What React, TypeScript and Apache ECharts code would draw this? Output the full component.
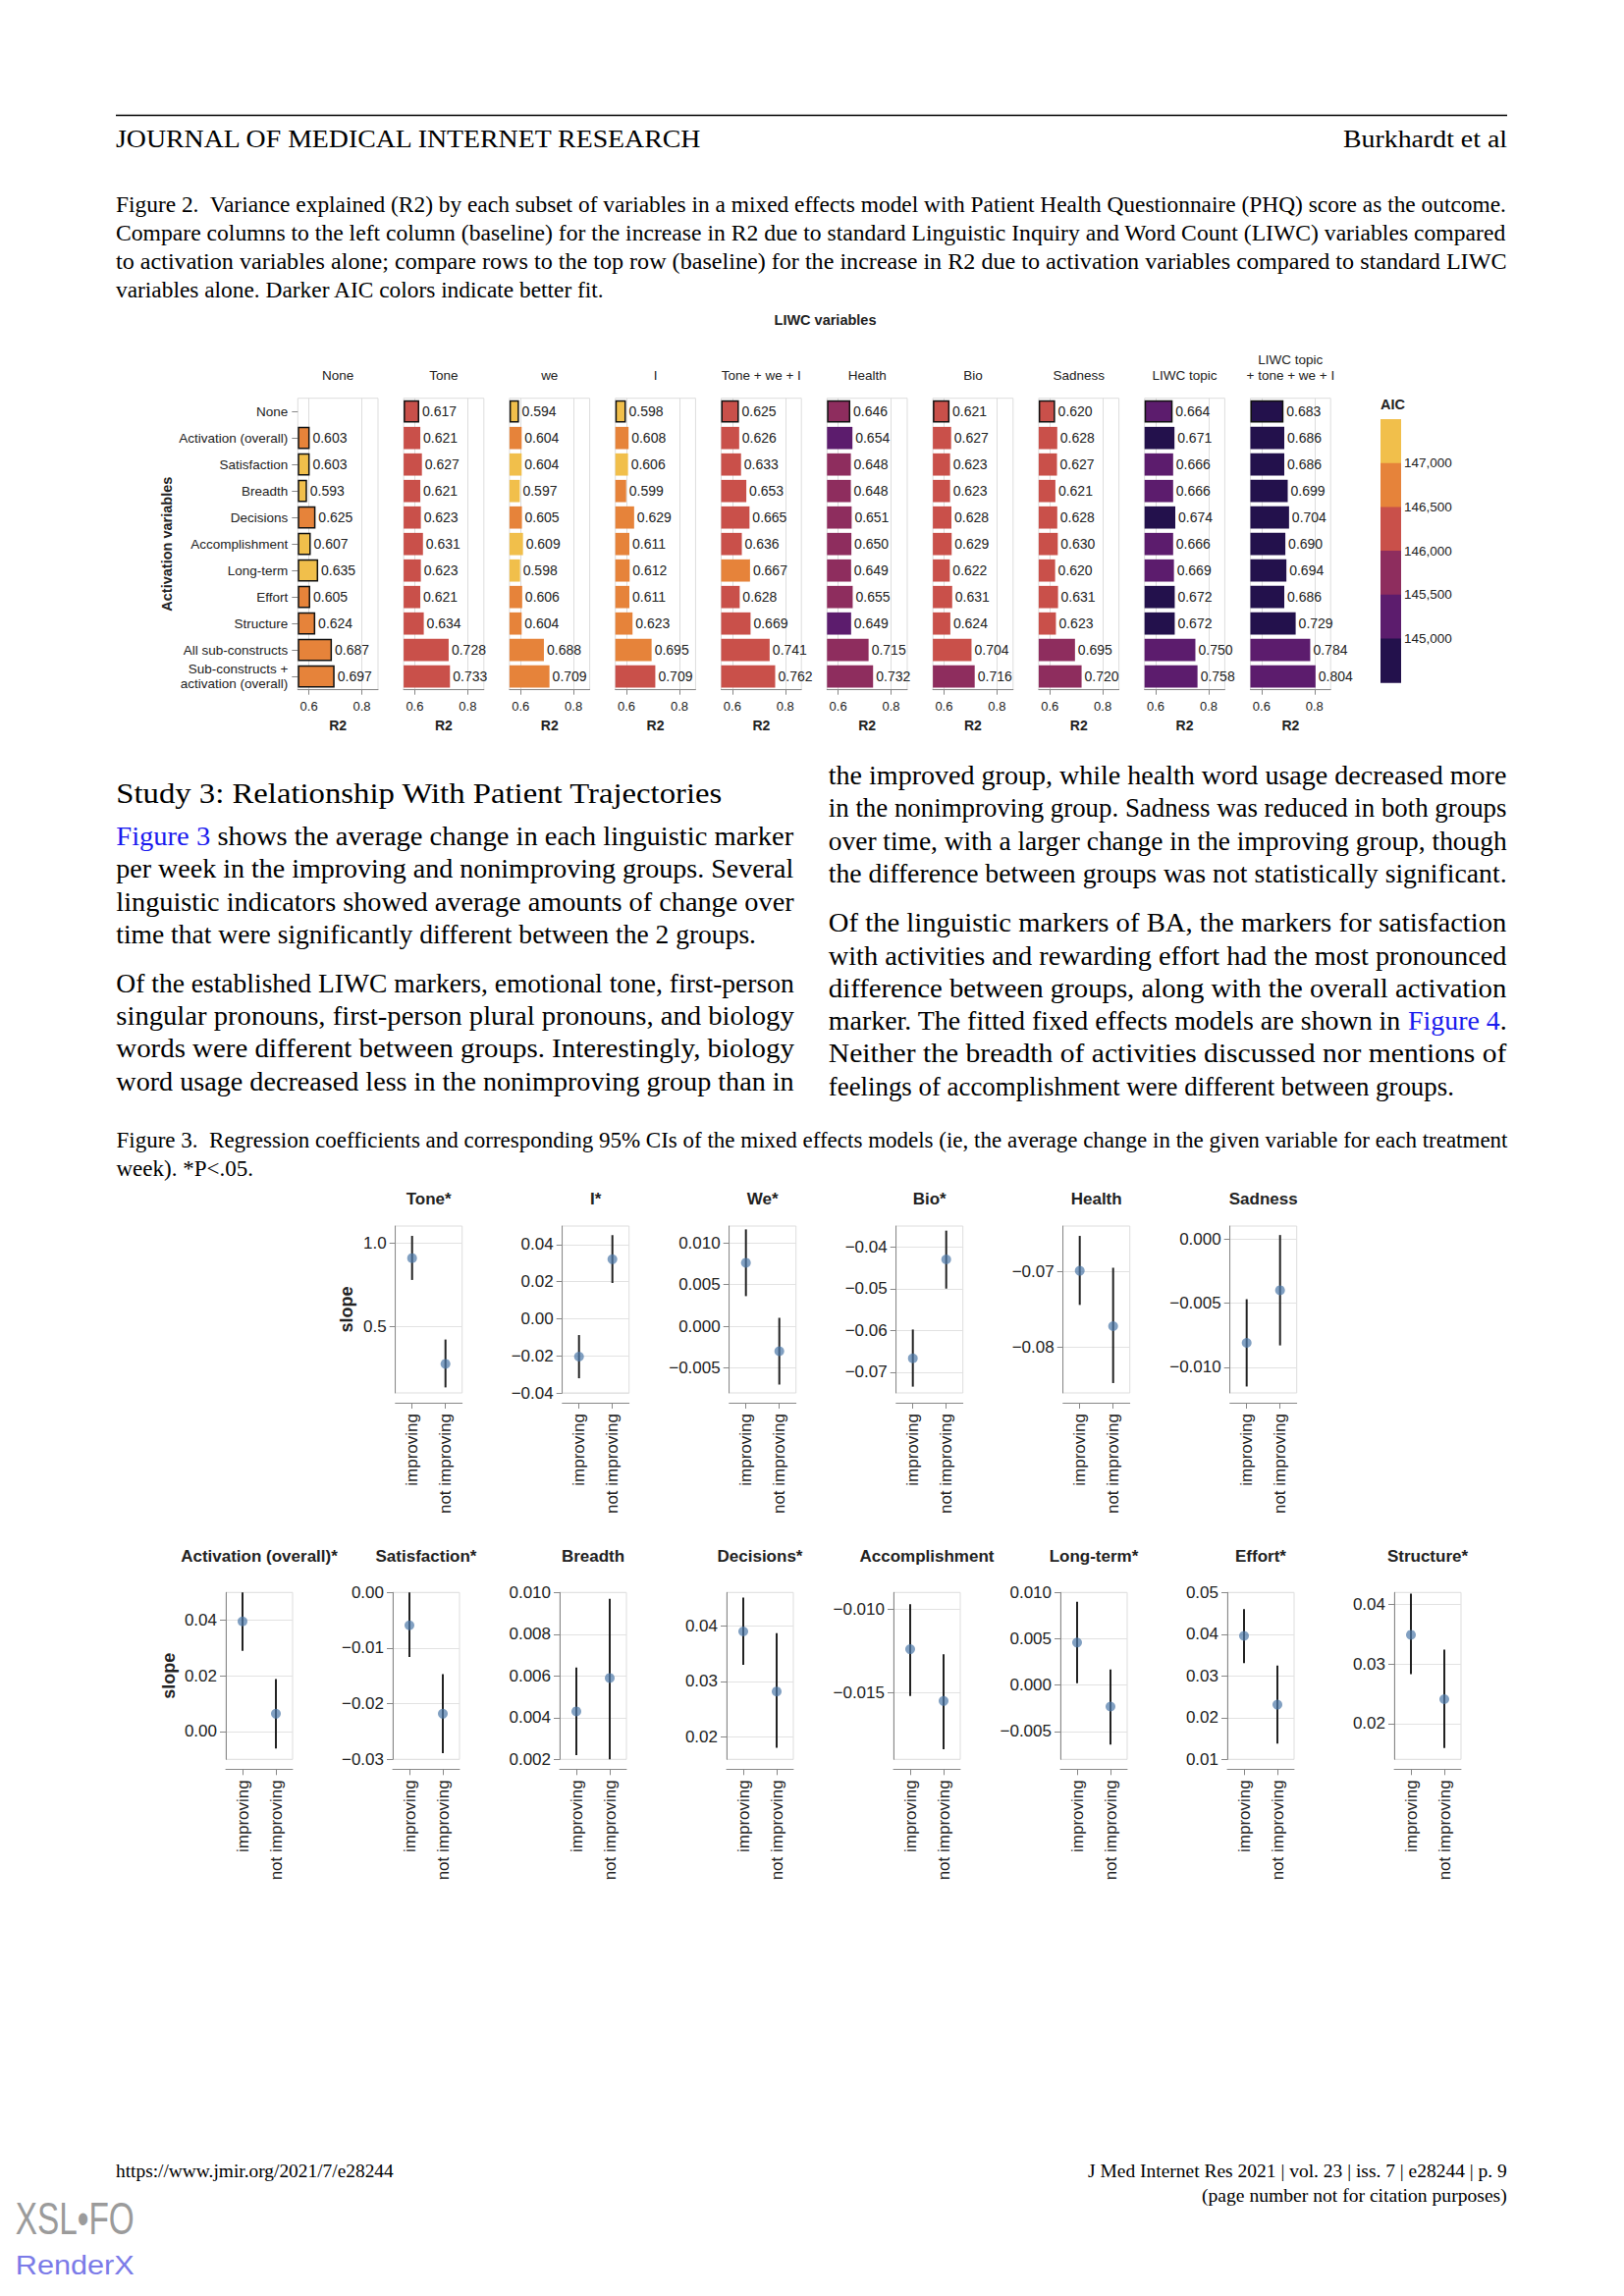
import React, { useEffect, useRef } from "react";
import * as echarts from "echarts";

// ================= Figure 2 data =================
const fig2RowLabels = [
  "None", "Activation (overall)", "Satisfaction", "Breadth", "Decisions", "Accomplishment",
  "Long-term", "Effort", "Structure", "All sub-constructs", "Sub-constructs +\nactivation (overall)",
];
const fig2ColLabels = [
  "None", "Tone", "we", "I", "Tone + we + I", "Health", "Bio", "Sadness", "LIWC topic", "LIWC topic\n+ tone + we + I",
];
const r2None = [null, 0.603, 0.603, 0.593, 0.625, 0.607, 0.635, 0.605, 0.624, 0.687, 0.697];
const r2Tone = [0.617, 0.621, 0.627, 0.621, 0.623, 0.631, 0.623, 0.621, 0.634, 0.728, 0.733];
const r2We = [0.594, 0.604, 0.604, 0.597, 0.605, 0.609, 0.598, 0.606, 0.604, 0.688, 0.709];
const r2I = [0.598, 0.608, 0.606, 0.599, 0.629, 0.611, 0.612, 0.611, 0.623, 0.695, 0.709];
const r2ToneWeI = [0.625, 0.626, 0.633, 0.653, 0.665, 0.636, 0.667, 0.628, 0.669, 0.741, 0.762];
const r2Health = [0.646, 0.654, 0.648, 0.648, 0.651, 0.65, 0.649, 0.655, 0.649, 0.715, 0.732];
const r2Bio = [0.621, 0.627, 0.623, 0.623, 0.628, 0.629, 0.622, 0.631, 0.624, 0.704, 0.716];
const r2Sadness = [0.62, 0.628, 0.627, 0.621, 0.628, 0.63, 0.62, 0.631, 0.623, 0.695, 0.72];
const r2LiwcTopic = [0.664, 0.671, 0.666, 0.666, 0.674, 0.666, 0.669, 0.672, 0.672, 0.75, 0.758];
const r2LiwcTopicPlus = [0.683, 0.686, 0.686, 0.699, 0.704, 0.69, 0.694, 0.686, 0.729, 0.784, 0.804];

// AIC bin of each bar: 0 = below 145,000 ... 5 = above 147,000
const aicNone = [null, 4, 5, 5, 4, 5, 5, 4, 4, 4, 4];
const aicTone = [3, 3, 3, 3, 3, 3, 3, 3, 3, 3, 3];
const aicWe = [5, 4, 5, 5, 4, 5, 5, 4, 4, 4, 4];
const aicI = [5, 4, 5, 4, 4, 4, 4, 4, 4, 4, 3];
const aicToneWeI = [3, 3, 3, 3, 3, 3, 4, 3, 3, 3, 3];
const aicHealth = [2, 1, 2, 2, 2, 2, 2, 2, 1, 2, 2];
const aicBio = [3, 3, 3, 3, 3, 3, 3, 3, 3, 3, 2];
const aicSadness = [3, 3, 3, 3, 3, 3, 3, 3, 3, 2, 2];
const aicLiwcTopic = [1, 0, 1, 1, 0, 1, 1, 0, 0, 1, 1];
const aicLiwcTopicPlus = [0, 0, 0, 0, 0, 0, 0, 0, 0, 1, 1];

const aicColors = ["#23114c", "#5c1c6d", "#8e2d5e", "#c9504a", "#e6833a", "#f1bf4b"];
const aicTickLabels = ["147,000", "146,500", "146,000", "145,500", "145,000"];
const r2TickValues = [0.6, 0.8];

// ================= Figure 3 data =================
const fig3Titles = [
  "Tone*", "I*", "We*", "Bio*", "Health", "Sadness",
  "Activation (overall)*", "Satisfaction*", "Breadth", "Decisions*", "Accomplishment", "Long-term*", "Effort*", "Structure*",
];
const fig3Groups = ["improving", "not improving"];
const estImproving = [0.908, -0.0204, 0.0076, -0.0667, -0.0699, -0.0081, 0.0396, -0.0059, 0.0043, 0.039, -0.0124, 0.0046, 0.0396, 0.0349];
const loImproving = [0.777, -0.0321, 0.0036, -0.0735, -0.0744, -0.0115, 0.029, -0.0116, 0.0022, 0.033, -0.0152, 0.0002, 0.0331, 0.0283];
const hiImproving = [1.041, -0.0088, 0.0116, -0.0598, -0.0653, -0.0047, 0.05, 0.0, 0.0064, 0.0451, -0.0097, 0.009, 0.046, 0.0418];
const estNotImproving = [0.274, 0.0321, -0.003, -0.043, -0.0772, -0.004, 0.0064, -0.0218, 0.0059, 0.0282, -0.0155, -0.0023, 0.0231, 0.0241];
const loNotImproving = [0.133, 0.0193, -0.007, -0.05, -0.0847, -0.0083, -0.0061, -0.0289, 0.002, 0.0181, -0.0184, -0.0064, 0.0138, 0.0159];
const hiNotImproving = [0.42, 0.0451, 0.001, -0.0361, -0.0695, 0.0003, 0.0189, -0.0147, 0.0097, 0.0387, -0.0127, 0.0017, 0.0325, 0.0324];

const fig3AxisMin = [0.1, -0.04, -0.008, -0.075, -0.086, -0.012, -0.01, -0.03, 0.002, 0.016, -0.019, -0.008, 0.01, 0.014];
const fig3AxisMax = [1.1, 0.05, 0.012, -0.035, -0.064, 0.001, 0.05, 0.0, 0.01, 0.046, -0.009, 0.01, 0.05, 0.042];
const fig3Ticks = [
  [0.5, 1.0],
  [-0.04, -0.02, 0, 0.02, 0.04],
  [-0.005, 0, 0.005, 0.01],
  [-0.07, -0.06, -0.05, -0.04],
  [-0.08, -0.07],
  [-0.01, -0.005, 0],
  [0, 0.02, 0.04],
  [-0.03, -0.02, -0.01, 0],
  [0.002, 0.004, 0.006, 0.008, 0.01],
  [0.02, 0.03, 0.04],
  [-0.015, -0.01],
  [-0.005, 0, 0.005, 0.01],
  [0.01, 0.02, 0.03, 0.04, 0.05],
  [0.02, 0.03, 0.04],
];
const fig3Decimals = [1, 2, 3, 2, 2, 3, 2, 2, 3, 2, 3, 3, 2, 2];

// ================= Page text =================
const LINK = "#1a1aee";
const headerLeft = "JOURNAL OF MEDICAL INTERNET RESEARCH";
const headerRight = "Burkhardt et al";
const fig2Caption = [
  "Figure 2.  Variance explained (R2) by each subset of variables in a mixed effects model with Patient Health Questionnaire (PHQ) score as the outcome.",
  "Compare columns to the left column (baseline) for the increase in R2 due to standard Linguistic Inquiry and Word Count (LIWC) variables compared",
  "to activation variables alone; compare rows to the top row (baseline) for the increase in R2 due to activation variables compared to standard LIWC",
  "variables alone. Darker AIC colors indicate better fit.",
];
const studyHeading = "Study 3: Relationship With Patient Trajectories";
const leftColumn: { segs: { t: string; c?: string }[]; full: boolean }[] = [
  { segs: [{ t: "Figure 3", c: LINK }, { t: " shows the average change in each linguistic marker" }], full: true },
  { segs: [{ t: "per week in the improving and nonimproving groups. Several" }], full: true },
  { segs: [{ t: "linguistic indicators showed average amounts of change over" }], full: true },
  { segs: [{ t: "time that were significantly different between the 2 groups." }], full: false },
  { segs: [{ t: "Of the established LIWC markers, emotional tone, first-person" }], full: true },
  { segs: [{ t: "singular pronouns, first-person plural pronouns, and biology" }], full: true },
  { segs: [{ t: "words were different between groups. Interestingly, biology" }], full: true },
  { segs: [{ t: "word usage decreased less in the nonimproving group than in" }], full: true },
];
const leftColumnY = [851.7, 885, 918.3, 951.7, 1001.7, 1035, 1068.3, 1101.7];
const rightColumn: { segs: { t: string; c?: string }[]; full: boolean }[] = [
  { segs: [{ t: "the improved group, while health word usage decreased more" }], full: true },
  { segs: [{ t: "in the nonimproving group. Sadness was reduced in both groups" }], full: true },
  { segs: [{ t: "over time, with a larger change in the improving group, though" }], full: true },
  { segs: [{ t: "the difference between groups was not statistically significant." }], full: true },
  { segs: [{ t: "Of the linguistic markers of BA, the markers for satisfaction" }], full: true },
  { segs: [{ t: "with activities and rewarding effort had the most pronounced" }], full: true },
  { segs: [{ t: "difference between groups, along with the overall activation" }], full: true },
  { segs: [{ t: "marker. The fitted fixed effects models are shown in " }, { t: "Figure 4", c: LINK }, { t: "." }], full: true },
  { segs: [{ t: "Neither the breadth of activities discussed nor mentions of" }], full: true },
  { segs: [{ t: "feelings of accomplishment were different between groups." }], full: false },
];
const rightColumnY = [790, 823.3, 857.3, 890, 940, 973.3, 1007.3, 1040, 1073.3, 1106.7];
const fig3Caption = [
  "Figure 3.  Regression coefficients and corresponding 95% CIs of the mixed effects models (ie, the average change in the given variable for each treatment",
  "week). *P<.05.",
];
const footerLeft = "https://www.jmir.org/2021/7/e28244";
const footerRight1 = "J Med Internet Res 2021 | vol. 23 | iss. 7 | e28244 | p. 9";
const footerRight2 = "(page number not for citation purposes)";

// ================= helpers =================
const SERIF = "Liberation Serif";
const SANS = "Liberation Sans";
let mctx: CanvasRenderingContext2D | null = null;
function measure(text: string, size: number, family: string, weight = "normal") {
  if (!mctx) mctx = document.createElement("canvas").getContext("2d");
  mctx!.font = `${weight} ${size}px "${family}"`;
  return mctx!.measureText(text).width;
}
type Seg = { t: string; c?: string };
function segsWidth(segs: Seg[], size: number, family: string, weight = "normal") {
  return segs.reduce((a, s) => a + measure(s.t, size, family, weight), 0);
}
function lineEls(segs: Seg[], x: number, y: number, size: number, family: string, scale: number, color = "#000", weight = "normal") {
  const out: any[] = [];
  let cum = 0;
  for (const s of segs) {
    out.push({
      type: "text", x: x + cum * scale, y, scaleX: scale, silent: true,
      style: { text: s.t, fontSize: size, fontFamily: family, fontWeight: weight, fill: s.c || color, textAlign: "left", textVerticalAlign: "middle" },
    });
    cum += measure(s.t, size, family, weight);
  }
  return out;
}
function fitLine(segs: Seg[], x: number, y: number, width: number, size: number, family: string, color = "#000", weight = "normal") {
  const scale = width / segsWidth(segs, size, family, weight);
  return lineEls(segs, x, y, size, family, scale, color, weight);
}
function block(lines: { segs: Seg[]; full: boolean }[], ys: number[], x: number, width: number, size: number, family: string) {
  const scales = lines.map((l) => width / segsWidth(l.segs, size, family));
  const fullScales = scales.filter((_, i) => lines[i].full);
  const base = fullScales.length ? Math.min(...fullScales) : 1;
  const out: any[] = [];
  lines.forEach((l, i) => {
    out.push(...lineEls(l.segs, x, ys[i], size, family, l.full ? scales[i] : Math.min(base, scales[i])));
  });
  return out;
}
function txt(text: string, x: number, y: number, size: number, opts: any = {}) {
  return {
    type: "text", x, y, silent: true, rotation: opts.rotation || 0,
    style: {
      text, fontSize: size, fontFamily: opts.family || SANS, fontWeight: opts.weight || "normal",
      fill: opts.color || "#222", textAlign: opts.align || "center", textVerticalAlign: "middle",
    },
  };
}
const fmtSigned = (v: number, d: number) => (v < 0 ? "\u2212" : "") + Math.abs(v).toFixed(d);

// ================= layout =================
const F2_LEFT = 303.3, F2_PITCH = 107.8, F2_W = 81.7, F2_TOP = 405.7, F2_H = 297;
const F2_MIN = 0.558, F2_MAX = 0.861;
const F3_ROW_LEFT = [402.7, 230], F3_ROW_TOP = [1249, 1622.3], F3_TITLE_Y = [1221, 1585.7];
const F3_PITCH = 170, F3_W = 68, F3_H = 170;
const F3_FONT = 17;

function buildOption() {
  const grids: any[] = [], xAxes: any[] = [], yAxes: any[] = [], series: any[] = [], els: any[] = [];

  // ---- page header ----
  els.push({ type: "line", silent: true, shape: { x1: 118, y1: 117.5, x2: 1535, y2: 117.5 }, style: { stroke: "#000", lineWidth: 1.5 } });
  els.push(...fitLine([{ t: headerLeft }], 118, 141.7, 598, 25, SERIF));
  els.push(...fitLine([{ t: headerRight }], 1535 - 167, 141.7, 167, 25, SERIF));

  // ---- figure 2 caption ----
  els.push(...block(fig2Caption.map((t, i) => ({ segs: [{ t }], full: i < 3 })), [208, 237, 266, 295], 118, 1417, 23, SERIF));

  // ---- figure 2 ----
  const r2Cols = [r2None, r2Tone, r2We, r2I, r2ToneWeI, r2Health, r2Bio, r2Sadness, r2LiwcTopic, r2LiwcTopicPlus];
  const aicCols = [aicNone, aicTone, aicWe, aicI, aicToneWeI, aicHealth, aicBio, aicSadness, aicLiwcTopic, aicLiwcTopicPlus];
  els.push(txt("LIWC variables", 840.5, 325.7, 14.5, { weight: "bold" }));
  els.push(txt("Activation variables", 169.6, F2_TOP + F2_H / 2, 14.5, { weight: "bold", rotation: Math.PI / 2 }));
  fig2ColLabels.forEach((label, i) => {
    const left = F2_LEFT + i * F2_PITCH;
    const gi = grids.length;
    grids.push({ left, top: F2_TOP, width: F2_W, height: F2_H, show: true, borderColor: "#dddddd", borderWidth: 1 });
    xAxes.push({
      gridIndex: gi, type: "value", min: F2_MIN, max: F2_MAX, startValue: F2_MIN,
      axisLine: { show: true, lineStyle: { color: "#888", width: 1 } },
      axisTick: { show: true, length: 5, customValues: r2TickValues, lineStyle: { color: "#888" } },
      axisLabel: { customValues: r2TickValues, formatter: (v: number) => v.toFixed(1), fontSize: 13, color: "#222", margin: 10 },
      splitLine: { show: true, lineStyle: { color: "#dddddd", width: 1 } },
      name: "R2", nameLocation: "middle", nameGap: 29,
      nameTextStyle: { fontWeight: "bold", fontSize: 14, color: "#222" },
    });
    yAxes.push({
      gridIndex: gi, type: "category", data: fig2RowLabels, inverse: true,
      axisLine: { show: false },
      axisTick: { show: i === 0, length: 6, alignWithLabel: true, lineStyle: { color: "#888" } },
      axisLabel: { show: i === 0, margin: 10, fontSize: 13.5, color: "#222", lineHeight: 15 },
      splitLine: { show: false },
    });
    series.push({
      type: "bar", xAxisIndex: gi, yAxisIndex: gi, barCategoryGap: "16%", clip: true,
      data: r2Cols[i].map((v, r) => {
        if (v == null) return "-";
        const base = i === 0 || r === 0;
        const color = aicColors[aicCols[i][r] as number];
        return { value: v, itemStyle: { color, borderColor: base ? "#111" : color, borderWidth: base ? 1.5 : 0 } };
      }),
      label: { show: true, position: "right", distance: 3, fontSize: 14, color: "#222", formatter: (p: any) => Number(p.value).toFixed(3) },
    });
    const lines = label.split("\n");
    lines.forEach((ln, k) => els.push(txt(ln, left + F2_W / 2, 382.7 - (lines.length - 1 - k) * 16, 13.5)));
  });

  // AIC legend
  const LEG_X = 1406, LEG_W = 21, LEG_TOP = 427, LEG_BAND = 44.7;
  els.push(txt("AIC", LEG_X, 411.7, 14.5, { weight: "bold", align: "left" }));
  for (let b = 5; b >= 0; b--) {
    els.push({ type: "rect", silent: true, shape: { x: LEG_X, y: LEG_TOP + (5 - b) * LEG_BAND, width: LEG_W, height: LEG_BAND + 0.5 }, style: { fill: aicColors[b] } });
  }
  aicTickLabels.forEach((t, k) => els.push(txt(t, LEG_X + LEG_W + 3, LEG_TOP + (k + 1) * LEG_BAND, 13.5, { align: "left" })));

  // ---- body text ----
  els.push(...fitLine([{ t: studyHeading }], 118.3, 808.3, 618.4, 29, SERIF));
  els.push(...block(leftColumn, leftColumnY, 118.3, 690.5, 27, SERIF));
  els.push(...block(rightColumn, rightColumnY, 843.8, 691, 27, SERIF));

  // ---- figure 3 caption ----
  els.push(...block(fig3Caption.map((t, i) => ({ segs: [{ t }], full: i === 0 })), [1161.7, 1190], 118.5, 1416.5, 23, SERIF));

  // ---- figure 3 ----
  els.push(txt("slope", 353.3, F3_ROW_TOP[0] + F3_H / 2, 18, { weight: "bold", rotation: Math.PI / 2 }));
  els.push(txt("slope", 171.7, F3_ROW_TOP[1] + F3_H / 2, 18, { weight: "bold", rotation: Math.PI / 2 }));
  fig3Titles.forEach((title, j) => {
    const row = j < 6 ? 0 : 1;
    const k = row === 0 ? j : j - 6;
    const left = F3_ROW_LEFT[row] + k * F3_PITCH;
    const top = F3_ROW_TOP[row];
    const gi = grids.length;
    const dec = fig3Decimals[j];
    grids.push({ left, top, width: F3_W, height: F3_H, show: true, borderColor: "#dddddd", borderWidth: 1 });
    xAxes.push({
      gridIndex: gi, type: "category", data: fig3Groups, offset: 10,
      axisLine: { show: true, onZero: false, lineStyle: { color: "#888" } },
      axisTick: { show: true, alignWithLabel: true, length: 6, lineStyle: { color: "#888" } },
      axisLabel: { rotate: 90, fontSize: F3_FONT, color: "#222", margin: 11, interval: 0 },
      splitLine: { show: false },
    });
    yAxes.push({
      gridIndex: gi, type: "value", min: fig3AxisMin[j], max: fig3AxisMax[j],
      axisLine: { show: true, onZero: false, lineStyle: { color: "#888" } },
      axisTick: { show: true, length: 6, customValues: fig3Ticks[j], lineStyle: { color: "#888" } },
      axisLabel: { customValues: fig3Ticks[j], formatter: (v: number) => fmtSigned(v, dec), fontSize: F3_FONT, color: "#222", margin: 9 },
      splitLine: { show: true, lineStyle: { color: "#e2e2e2" } },
    });
    series.push({
      type: "custom", xAxisIndex: gi, yAxisIndex: gi, z: 2,
      data: [[0, loImproving[j], hiImproving[j]], [1, loNotImproving[j], hiNotImproving[j]]],
      encode: { x: 0, y: [1, 2] },
      renderItem: (_p: any, api: any) => {
        const a = api.coord([api.value(0), api.value(1)]);
        const b = api.coord([api.value(0), api.value(2)]);
        return { type: "line", shape: { x1: a[0], y1: a[1], x2: b[0], y2: b[1] }, style: { stroke: "#222", lineWidth: 2 } };
      },
    });
    series.push({
      type: "scatter", xAxisIndex: gi, yAxisIndex: gi, z: 3, symbolSize: 10,
      data: [[0, estImproving[j]], [1, estNotImproving[j]]],
      itemStyle: { color: "#4c78a8", opacity: 0.7 },
    });
    els.push(txt(title, left + F3_W / 2, F3_TITLE_Y[row], F3_FONT, { weight: "bold" }));
  });

  // ---- footer ----
  els.push(...fitLine([{ t: footerLeft }], 118, 2212, 283, 19, SERIF));
  els.push(...fitLine([{ t: footerRight1 }], 1535 - 427, 2212, 427, 19, SERIF));
  els.push(...fitLine([{ t: footerRight2 }], 1535 - 311, 2236.7, 311, 19, SERIF));
  els.push(...fitLine([{ t: "XSL\u2022FO" }], 15.8, 2260.5, 121, 46, SANS, "#9b9b9b"));
  els.push(...fitLine([{ t: "RenderX" }], 15.8, 2307.5, 121, 27, SANS, "#7b7be8"));

  return {
    animation: false,
    backgroundColor: "#ffffff",
    textStyle: { fontFamily: SANS },
    grid: grids,
    xAxis: xAxes,
    yAxis: yAxes,
    series,
    graphic: { elements: els },
  };
}

export default function App() {
  const ref = useRef<HTMLDivElement>(null);
  useEffect(() => {
    if (!ref.current) return;
    const chart = echarts.init(ref.current, null, { renderer: "svg" });
    chart.setOption(buildOption() as any);
    return () => chart.dispose();
  }, []);
  return <div ref={ref} style={{ position: "absolute", left: 0, top: 0, width: 1654, height: 2339, background: "#fff" }} />;
}
